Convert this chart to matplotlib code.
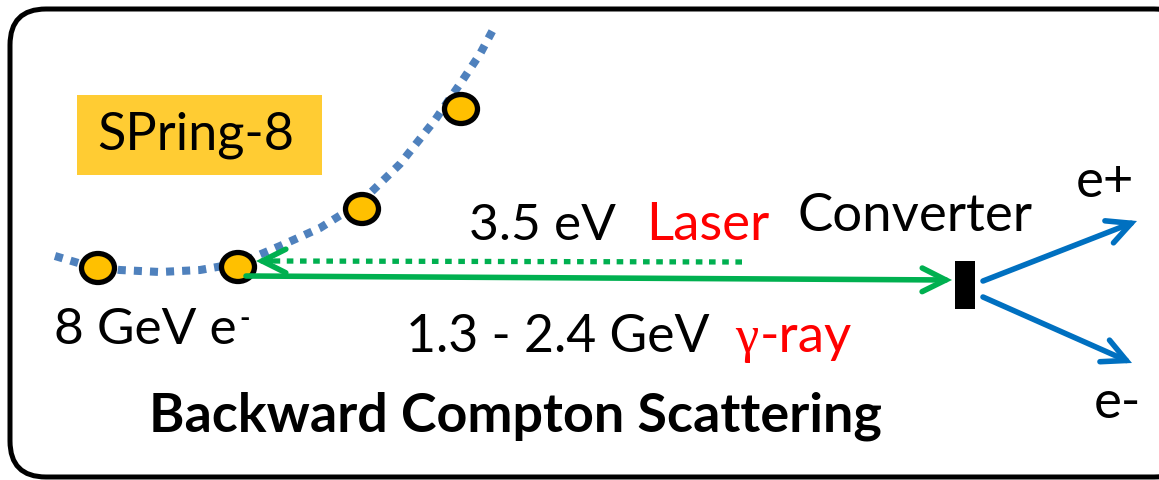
import matplotlib
matplotlib.use("Agg")
import matplotlib.pyplot as plt
from matplotlib.patches import FancyBboxPatch, Rectangle, Ellipse, FancyArrowPatch

W, H = 1159, 481

# electron orbit
orbit_x = [55, 85, 120, 160, 200, 240, 280, 320, 360, 400, 435, 462, 480, 495]
orbit_y = [257, 266, 271, 273, 271, 264, 247, 229, 204, 165, 121, 82, 55, 27]
bunch_x = [98, 238, 362, 461]
bunch_y = [269, 268, 210, 110]

labels = [
    (97, 150, "SPring-8", "black", 37.6, "normal"),
    (469, 240, "3.5 eV", "black", 37, "normal"),
    (646, 240, "Laser", "#ff0000", 38, "normal"),
    (798, 231, "Converter", "black", 38, "normal"),
    (1076, 197, "e+", "black", 38, "normal"),
    (54, 344, "8 GeV e", "black", 37, "normal"),
    (406, 352, "1.3 - 2.4 GeV", "black", 37.3, "normal"),
    (760, 352, "-ray", "#ff0000", 38, "normal"),
    (1094, 418, "e-", "black", 38, "normal"),
    (149, 432, "Backward Compton Scattering", "black", 38.8, "bold"),
]

fig = plt.figure(figsize=(W / 100, H / 100), dpi=100)
ax = fig.add_axes([0, 0, 1, 1])
ax.set_xlim(0, W)
ax.set_ylim(H, 0)
ax.axis("off")
plt.rcParams["font.family"] = ["Lato", "DejaVu Sans"]

# frame
ax.add_patch(FancyBboxPatch((10, 10), 1180, 468, boxstyle="round,pad=0,rounding_size=36",
                            fc="white", ec="black", lw=3.6))

# label box
ax.add_patch(Rectangle((77, 96), 245, 80, fc="#ffcc33", ec="none"))

# orbit
ax.plot(orbit_x, orbit_y, color="#4f81bd", lw=5.8, dashes=(1, 1), dash_capstyle="butt", zorder=2)
for x, y in zip(bunch_x, bunch_y):
    ax.add_patch(Ellipse((x, y), 33, 29, fc="#ffc000", ec="black", lw=3.8, zorder=3))


def arrow(start, end, color, length=17, width=8.5):
    ax.add_patch(FancyArrowPatch(start, end, arrowstyle=f"->,head_length={length},head_width={width}",
                                 color=color, lw=4, shrinkA=0, shrinkB=0, capstyle="round",
                                 joinstyle="miter", zorder=4))


# laser, gamma and pair arrows
ax.plot([742, 272], [263, 262], color="#00b050", lw=3.8, dashes=(1.25, 1.25), dash_capstyle="butt", zorder=4)
arrow((272, 262), (256, 262), "#00b050")
arrow((246, 277), (952, 281), "#00b050")
ax.add_patch(Rectangle((955, 262), 20, 48, fc="black", ec="none", zorder=4))
arrow((983, 282), (1137, 222), "#0070c0")
arrow((983, 298), (1132, 364), "#0070c0")

for x, y, s, c, size, weight in labels:
    ax.text(x, y, s, color=c, fontsize=size, fontweight=weight, va="baseline", ha="left", zorder=5)
ax.text(735, 352, "γ", color="#ff0000", fontsize=38, family=["Liberation Serif"], zorder=5)
ax.text(239, 327, "-", color="black", fontsize=20, fontweight="bold", zorder=5)

fig.savefig("out.png", dpi=100)
